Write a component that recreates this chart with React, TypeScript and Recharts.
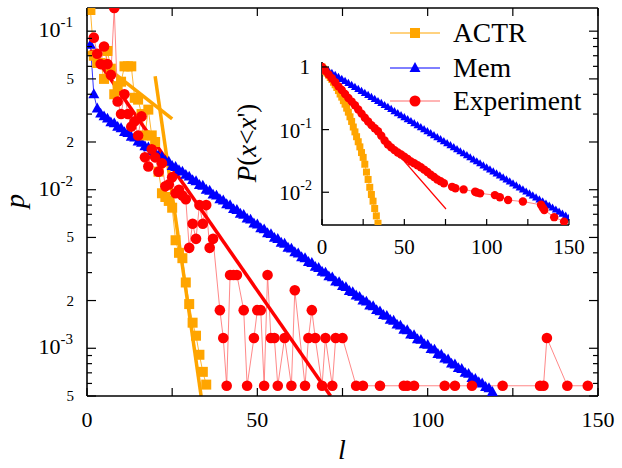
import React from "react";
import { ComposedChart, Line, XAxis, YAxis } from "recharts";

const SERIF = "'Liberation Serif', 'Times New Roman', serif";
const ORANGE = "#ffa500";
const BLUE = "#0000ff";
const RED = "#ff0000";
const THIN_RED = "#ff6a6a";

// ---- main panel: p(l) ----
const actrL = [1, 2, 3, 4, 5, 6, 7, 8, 9, 10, 11, 12, 13, 14, 15, 16, 17, 18, 19, 20, 21, 22, 23, 24, 25, 26, 27, 28, 29, 30, 31, 32, 33, 34, 35];
const actrP = [0.136, 0.07, 0.063, 0.063, 0.05, 0.075, 0.058, 0.04, 0.045, 0.048, 0.06, 0.06, 0.06, 0.038, 0.037, 0.03, 0.022, 0.032, 0.022, 0.02, 0.013, 0.0095, 0.009, 0.0085, 0.0077, 0.0048, 0.004, 0.0037, 0.0026, 0.0019, 0.00145, 0.0012, 0.00091, 0.00071, 0.00059];

const memP = [
  0.082, 0.04, 0.0325, 0.0302, 0.029, 0.0281, 0.0266, 0.0262, 0.0249, 0.0244,
  0.0231, 0.0228, 0.0216, 0.0213, 0.0201, 0.0198, 0.0188, 0.0185, 0.0175, 0.0172,
  0.0163, 0.0161, 0.0152, 0.015, 0.0141, 0.0139, 0.0133, 0.013, 0.0124, 0.0121,
  0.0115, 0.0113, 0.0107, 0.0106, 0.01, 0.00985, 0.00932, 0.00918, 0.0087, 0.00855,
  0.0081, 0.00798, 0.00755, 0.00745, 0.00705, 0.00694, 0.00657, 0.00648, 0.00612, 0.00603,
  0.00571, 0.00562, 0.00532, 0.00525, 0.00497, 0.00489, 0.00463, 0.00456, 0.00431, 0.00425,
  0.00403, 0.00396, 0.00375, 0.0037, 0.0035, 0.00345, 0.00326, 0.00321, 0.00304, 0.003,
  0.00284, 0.0028, 0.00264, 0.00261, 0.00247, 0.00243, 0.0023, 0.00226, 0.00215, 0.00211,
  0.002, 0.00197, 0.00186, 0.00184, 0.00174, 0.00171, 0.00162, 0.0016, 0.00151, 0.00149,
  0.00141, 0.00139, 0.00131, 0.0013, 0.00122, 0.00121, 0.00114, 0.00113, 0.00106, 0.00105,
  0.00099, 0.00098, 0.00092, 0.00091, 0.00086, 0.00085, 0.0008, 0.00079, 0.00075, 0.00074,
  0.0007, 0.00069, 0.00065, 0.00064, 0.00061, 0.0006, 0.00057, 0.00056, 0.00053,
];
const memL = memP.map((_, i) => i + 1);

const expL = [
  2, 3, 4, 5, 6, 7, 8, 9, 10, 11, 12, 13, 14, 15, 16, 17, 18, 19, 20, 21, 22, 23, 24, 25, 26, 27, 28, 29, 30,
  31, 32, 33, 34, 35, 36, 37, 39, 40, 41, 42, 43, 44, 46, 47, 49, 50, 51, 52, 53, 54, 55, 56, 58, 60, 61,
  64, 65, 66, 67, 69, 70, 72, 73, 75, 79, 81, 86, 93, 94, 96, 105, 108, 113, 122, 133, 134, 135, 141, 147,
];
const expP = [
  0.091, 0.072, 0.062, 0.08, 0.062, 0.053, 0.14, 0.036, 0.03, 0.04, 0.03, 0.025, 0.027, 0.022, 0.029, 0.016,
  0.014, 0.018, 0.016, 0.013, 0.0147, 0.0105, 0.0108, 0.012, 0.0095, 0.01, 0.0092, 0.0087, 0.0043,
  0.0061, 0.0049, 0.008, 0.0061, 0.008, 0.0043, 0.0049, 0.00174, 0.00116, 0.00058, 0.0029, 0.0029, 0.0029,
  0.00174, 0.00058, 0.00116, 0.00174, 0.00174, 0.00058, 0.0029, 0.00116, 0.00116, 0.00058, 0.00116, 0.00058,
  0.00232, 0.00058, 0.00116, 0.00174, 0.00116, 0.00058, 0.00116, 0.00058, 0.00116, 0.00116, 0.00058,
  0.00058, 0.00058, 0.00058, 0.00058, 0.00058, 0.00058, 0.00058, 0.00058, 0.00058, 0.00058, 0.00058,
  0.00116, 0.00058, 0.00058,
];

const actrFitAL = [0, 25];
const actrFitAP = [0.074, 0.028];
const actrFitBL = [20, 33.5];
const actrFitBP = [0.052, 0.0005];
const expFitL = [1, 71.5];
const expFitP = [0.076, 0.0005];

const mainXTicks = [0, 25, 50, 75, 100, 125, 150];
const mainYTicks = [
  0.0005, 0.0006, 0.0007, 0.0008, 0.0009, 0.001, 0.002, 0.003, 0.004, 0.005, 0.006, 0.007, 0.008, 0.009,
  0.01, 0.02, 0.03, 0.04, 0.05, 0.06, 0.07, 0.08, 0.09, 0.1,
];

// ---- inset: P(x < x') ----
const insActrL = [0, 1, 2, 3, 4, 5, 6, 7, 8, 9, 10, 11, 12, 13, 14, 15, 16, 17, 18, 19, 20, 21, 22, 23, 24, 25, 26, 27, 28, 29, 30, 31, 32, 33, 34];
const insActrP = [1, 0.93, 0.86, 0.8, 0.74, 0.68, 0.63, 0.57, 0.52, 0.47, 0.42, 0.37, 0.33, 0.29, 0.255, 0.22, 0.19, 0.16, 0.135, 0.11, 0.092, 0.077, 0.064, 0.053, 0.043, 0.036, 0.028, 0.021, 0.016, 0.012, 0.0092, 0.0072, 0.0055, 0.0042, 0.0032];

const insMemP = [
  1, 0.929, 0.862, 0.801, 0.744, 0.691, 0.641, 0.596, 0.553, 0.514, 0.477, 0.443, 0.412, 0.382, 0.355, 0.33,
  0.306, 0.284, 0.264, 0.245, 0.228, 0.212, 0.196, 0.182, 0.169, 0.157, 0.146, 0.136, 0.126, 0.117, 0.109,
  0.101, 0.0939, 0.0872, 0.081, 0.0752, 0.0699, 0.0649, 0.0603, 0.056, 0.052, 0.0483, 0.0448, 0.0416, 0.0387,
  0.0359, 0.0333, 0.031, 0.0288, 0.0267, 0.0248, 0.023, 0.0214, 0.0199, 0.0184, 0.0171, 0.0159, 0.0148,
  0.0137, 0.0128, 0.0118, 0.011, 0.0102, 0.0095, 0.00882, 0.00819, 0.00761, 0.00707, 0.00656, 0.00609,
  0.00566, 0.00526, 0.00488, 0.00453, 0.00421, 0.00391,
];
const insMemL = insMemP.map((_, i) => i * 2);

const insExpL = [
  0, 2, 4, 6, 8, 10, 12, 14, 16, 18, 20, 22, 24, 26, 28, 30, 32, 34, 36, 38, 40, 42, 44, 46, 48, 50, 52, 54,
  56, 58, 60, 62, 64, 66, 68, 70, 72, 74, 79, 81, 86, 93, 94, 96, 105, 108, 113, 122, 133, 134, 135, 141, 147,
];
const insExpP = [
  1, 0.87, 0.76, 0.66, 0.57, 0.49, 0.43, 0.37, 0.32, 0.28, 0.245, 0.21, 0.18, 0.155, 0.135, 0.118, 0.105,
  0.094, 0.08, 0.067, 0.058, 0.052, 0.047, 0.043, 0.04, 0.037, 0.034, 0.031, 0.029, 0.027, 0.025, 0.023,
  0.021, 0.019, 0.0175, 0.016, 0.015, 0.0139, 0.0122, 0.0116, 0.0111, 0.0102, 0.0099, 0.0096, 0.009, 0.0083,
  0.0075, 0.0071, 0.0063, 0.0057, 0.0052, 0.004, 0.0034,
];
const insFitL = [0, 75.3];
const insFitP = [1, 0.0054];

const insXTicks = [0, 25, 50, 75, 100, 125, 150];
const insYTicks = [0.01, 0.1, 1];

const legendNames = ["ACTR", "Mem", "Experiment"];

const zip = (ls: number[], ps: number[]) => ls.map((l, i) => ({ l, p: ps[i] }));

const squareDot = (s: number) => (props: any) => {
  const { cx, cy, index } = props;
  if (cx == null || cy == null) return <g key={`s${index}`} />;
  return <rect key={`s${index}`} x={cx - s / 2} y={cy - s / 2} width={s} height={s} fill={ORANGE} />;
};
const triDot = (s: number) => (props: any) => {
  const { cx, cy, index } = props;
  if (cx == null || cy == null) return <g key={`t${index}`} />;
  const h = s * 0.9;
  return (
    <polygon
      key={`t${index}`}
      points={`${cx},${cy - h * 0.6} ${cx - s / 2},${cy + h * 0.4} ${cx + s / 2},${cy + h * 0.4}`}
      fill={BLUE}
    />
  );
};
const circleDot = (r: number) => (props: any) => {
  const { cx, cy, index } = props;
  if (cx == null || cy == null) return <g key={`c${index}`} />;
  return <circle key={`c${index}`} cx={cx} cy={cy} r={r} fill={RED} />;
};

const mantExp = (v: number) => {
  const e = Math.floor(Math.log10(v) + 1e-9);
  const m = Math.round(v / Math.pow(10, e));
  return { m, e };
};

const MainLeftTick = (props: any) => {
  const { x, y, payload } = props;
  const { m, e } = mantExp(payload.value);
  const big = m === 1 || m === 2 || m === 5;
  return (
    <g>
      <line x1={x} x2={x + (big ? 9 : 5)} y1={y} y2={y} stroke="#000" strokeWidth={1.2} />
      {m === 1 && (
        <text x={x - 14} y={y + 6} textAnchor="end" fontFamily={SERIF} fill="#000">
          <tspan fontSize={22}>10</tspan>
          <tspan fontSize={15} dy={-10}>{`${e}`}</tspan>
        </text>
      )}
      {(m === 2 || m === 5) && (
        <text x={x - 13} y={y + 5} textAnchor="end" fontFamily={SERIF} fontSize={15} fill="#000">
          {m}
        </text>
      )}
    </g>
  );
};
const MainRightTick = (props: any) => {
  const { x, y, payload } = props;
  const { m } = mantExp(payload.value);
  const big = m === 1 || m === 2 || m === 5;
  return <line x1={x} x2={x - (big ? 9 : 5)} y1={y} y2={y} stroke="#000" strokeWidth={1.2} />;
};
const MainBottomTick = (props: any) => {
  const { x, y, payload } = props;
  return (
    <g>
      <line x1={x} x2={x} y1={y} y2={y - 8} stroke="#000" strokeWidth={1.2} />
      {payload.value % 50 === 0 && (
        <text x={x} y={y + 31} textAnchor="middle" fontFamily={SERIF} fontSize={22} fill="#000">
          {payload.value}
        </text>
      )}
    </g>
  );
};
const MainTopTick = (props: any) => {
  const { x, y } = props;
  return <line x1={x} x2={x} y1={y} y2={y + 8} stroke="#000" strokeWidth={1.2} />;
};

const InsetLeftTick = (props: any) => {
  const { x, y, payload } = props;
  const { e } = mantExp(payload.value);
  return (
    <g>
      <line x1={x} x2={x + 7} y1={y} y2={y} stroke="#000" strokeWidth={1.2} />
      {e === 0 ? (
        <text x={x - 12} y={y + 7} textAnchor="end" fontFamily={SERIF} fontSize={21} fill="#000">
          1
        </text>
      ) : (
        <text x={x - 10} y={y + 8} textAnchor="end" fontFamily={SERIF} fill="#000">
          <tspan fontSize={21}>10</tspan>
          <tspan fontSize={14} dy={-10}>{`${e}`}</tspan>
        </text>
      )}
    </g>
  );
};
const InsetBottomTick = (props: any) => {
  const { x, y, payload } = props;
  return (
    <g>
      <line x1={x} x2={x} y1={y} y2={y - 6} stroke="#000" strokeWidth={1.2} />
      {payload.value % 50 === 0 && (
        <text x={x} y={y + 29} textAnchor="middle" fontFamily={SERIF} fontSize={21} fill="#000">
          {payload.value}
        </text>
      )}
    </g>
  );
};

const axisLine = { stroke: "#000", strokeWidth: 1.6 };

function MainChart() {
  return (
    <ComposedChart width={622} height={468} margin={{ top: 7, right: 23, bottom: 71, left: 86 }}>
      <XAxis xAxisId="b" dataKey="l" type="number" domain={[0, 150]} allowDataOverflow ticks={mainXTicks}
        interval={0} height={1} tickSize={0} tickMargin={0} tickLine={false} axisLine={axisLine} tick={MainBottomTick} />
      <XAxis xAxisId="t" orientation="top" dataKey="l" type="number" domain={[0, 150]} allowDataOverflow ticks={mainXTicks}
        interval={0} height={1} tickSize={0} tickMargin={0} tickLine={false} axisLine={axisLine} tick={MainTopTick} />
      <YAxis yAxisId="l" dataKey="p" type="number" scale="log" domain={[0.0005, 0.14]} allowDataOverflow ticks={mainYTicks}
        interval={0} width={1} tickSize={0} tickMargin={0} tickLine={false} axisLine={axisLine} tick={MainLeftTick} />
      <YAxis yAxisId="r" orientation="right" dataKey="p" type="number" scale="log" domain={[0.0005, 0.14]} allowDataOverflow
        ticks={mainYTicks} interval={0} width={1} tickSize={0} tickMargin={0} tickLine={false} axisLine={axisLine} tick={MainRightTick} />

      <Line xAxisId="b" yAxisId="l" data={zip(memL, memP)} dataKey="p" type="linear" stroke={BLUE} strokeWidth={0.8}
        dot={triDot(11)} isAnimationActive={false} />
      <Line xAxisId="b" yAxisId="l" data={zip(actrL, actrP)} dataKey="p" type="linear" stroke={ORANGE} strokeWidth={0.8}
        dot={squareDot(10)} isAnimationActive={false} />
      <Line xAxisId="b" yAxisId="l" data={zip(actrFitAL, actrFitAP)} dataKey="p" type="linear" stroke={ORANGE} strokeWidth={3.5}
        dot={false} isAnimationActive={false} />
      <Line xAxisId="b" yAxisId="l" data={zip(actrFitBL, actrFitBP)} dataKey="p" type="linear" stroke={ORANGE} strokeWidth={3.5}
        dot={false} isAnimationActive={false} />
      <Line xAxisId="b" yAxisId="l" data={zip(expL, expP)} dataKey="p" type="linear" stroke={THIN_RED} strokeWidth={0.8}
        dot={circleDot(5.3)} isAnimationActive={false} />
      <Line xAxisId="b" yAxisId="l" data={zip(expFitL, expFitP)} dataKey="p" type="linear" stroke={RED} strokeWidth={3.5}
        dot={false} isAnimationActive={false} />

      <text x={24} y={201} transform="rotate(-90 24 201)" textAnchor="middle" fontFamily={SERIF} fontStyle="italic" fontSize={28} fill="#000">
        p
      </text>
      <text x={342} y={459} textAnchor="middle" fontFamily={SERIF} fontStyle="italic" fontSize={28} fill="#000">
        l
      </text>
    </ComposedChart>
  );
}

function InsetChart() {
  return (
    <ComposedChart width={622} height={468} margin={{ top: 62, right: 53, bottom: 242, left: 321 }}>
      <XAxis xAxisId="b" dataKey="l" type="number" domain={[0, 150]} allowDataOverflow ticks={insXTicks}
        interval={0} height={1} tickSize={0} tickMargin={0} tickLine={false} axisLine={axisLine} tick={InsetBottomTick} />
      <YAxis yAxisId="l" dataKey="p" type="number" scale="log" domain={[0.003, 1.2]} allowDataOverflow ticks={insYTicks}
        interval={0} width={1} tickSize={0} tickMargin={0} tickLine={false} axisLine={axisLine} tick={InsetLeftTick} />

      <Line xAxisId="b" yAxisId="l" data={zip(insActrL, insActrP)} dataKey="p" type="linear" stroke={ORANGE} strokeWidth={0.8}
        dot={squareDot(7)} isAnimationActive={false} />
      <Line xAxisId="b" yAxisId="l" data={zip(insMemL, insMemP)} dataKey="p" type="linear" stroke={BLUE} strokeWidth={0.8}
        dot={triDot(8)} isAnimationActive={false} />
      <Line xAxisId="b" yAxisId="l" data={zip(insExpL, insExpP)} dataKey="p" type="linear" stroke={THIN_RED} strokeWidth={0.8}
        dot={circleDot(4.2)} isAnimationActive={false} />
      <Line xAxisId="b" yAxisId="l" data={zip(insFitL, insFitP)} dataKey="p" type="linear" stroke={RED} strokeWidth={1.2}
        dot={false} isAnimationActive={false} />

      <text x={256} y={143} transform="rotate(-90 256 143)" textAnchor="middle" fontFamily={SERIF} fontSize={27} fill="#000">
        <tspan fontStyle="italic">P</tspan>(<tspan fontStyle="italic">x</tspan>&lt;<tspan fontStyle="italic">x</tspan>')
      </text>
    </ComposedChart>
  );
}

function LegendBox() {
  const colors = [ORANGE, BLUE, THIN_RED];
  const rows = [33, 68, 101];
  return (
    <svg width={622} height={468} style={{ position: "absolute", left: 0, top: 0, pointerEvents: "none" }}>
      {legendNames.map((name, i) => {
        const y = rows[i];
        return (
          <g key={name}>
            <line x1={390} x2={440} y1={y} y2={y} stroke={colors[i]} strokeWidth={1} />
            {i === 0 && <rect x={410} y={y - 5} width={10} height={10} fill={ORANGE} />}
            {i === 1 && <polygon points={`415,${y - 6} 409.5,${y + 4} 420.5,${y + 4}`} fill={BLUE} />}
            {i === 2 && <circle cx={415} cy={y} r={5.5} fill={RED} />}
            <text x={453} y={y + 9} fontFamily={SERIF} fontSize={27.5} fill="#000">
              {name}
            </text>
          </g>
        );
      })}
    </svg>
  );
}

export default function App() {
  return (
    <div style={{ position: "absolute", left: 0, top: 0, width: 622, height: 468, background: "#fff" }}>
      <div style={{ position: "absolute", left: 0, top: 0 }}>
        <MainChart />
      </div>
      <div style={{ position: "absolute", left: 0, top: 0 }}>
        <InsetChart />
      </div>
      <LegendBox />
    </div>
  );
}
